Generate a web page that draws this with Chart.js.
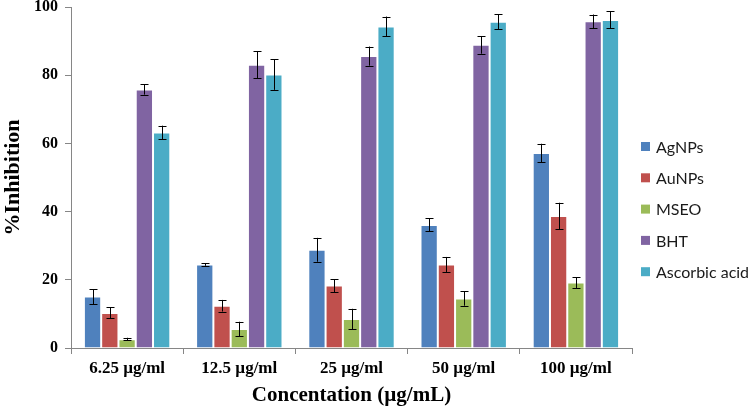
<!DOCTYPE html>
<html>
<head>
<meta charset="utf-8">
<script src="https://cdn.jsdelivr.net/npm/chart.js@4/dist/chart.umd.min.js"></script>
<style>
  html, body { margin: 0; padding: 0; background: #ffffff; }
  #c { display: block; }
</style>
</head>
<body>
<canvas id="c" width="749" height="409"></canvas>
<script>
const categories = ['6.25 µg/ml', '12.5 µg/ml', '25 µg/ml', '50 µg/ml', '100 µg/ml'];
const seriesNames = ['AgNPs', 'AuNPs', 'MSEO', 'BHT', 'Ascorbic acid'];
const agnps = [15.1, 24.5, 28.8, 36.1, 57.2];
const agnpsErr = [2.2, 0.4, 3.5, 1.9, 2.7];
const aunps = [10.3, 12.4, 18.3, 24.5, 38.7];
const aunpsErr = [1.6, 1.7, 1.9, 2.2, 3.9];
const mseo = [2.6, 5.6, 8.5, 14.5, 19.2];
const mseoErr = [0.4, 2.1, 3.0, 2.1, 1.6];
const bht = [75.8, 83.1, 85.6, 88.9, 95.8];
const bhtErr = [1.5, 4.0, 2.8, 2.6, 2.0];
const ascorbic = [63.2, 80.2, 94.3, 95.7, 96.2];
const ascorbicErr = [2.0, 4.5, 2.9, 2.2, 2.5];
const yTicks = [0, 20, 40, 60, 80, 100];

const colors = ['#4F81BD', '#C0504D', '#9BBB59', '#8064A2', '#4BACC6'];
const values = [agnps, aunps, mseo, bht, ascorbic];
const errors = [agnpsErr, aunpsErr, mseoErr, bhtErr, ascorbicErr];

const datasets = seriesNames.map((name, i) => ({
  label: name,
  data: values[i],
  errors: errors[i],
  backgroundColor: colors[i],
  borderColor: 'rgba(255,255,255,0.35)',
  borderWidth: { left: 1, right: 1, top: 1, bottom: 0 },
  categoryPercentage: 0.77,
  barPercentage: 1.0
}));

const errorBars = {
  id: 'errorBars',
  afterDatasetsDraw(chart) {
    const ctx = chart.ctx;
    const yScale = chart.scales.y;
    ctx.save();
    ctx.strokeStyle = '#000000';
    ctx.lineWidth = 1;
    chart.data.datasets.forEach((ds, di) => {
      const meta = chart.getDatasetMeta(di);
      meta.data.forEach((bar, j) => {
        const v = ds.data[j], e = ds.errors[j];
        const x = Math.round(bar.x) + 0.5;
        const yt = yScale.getPixelForValue(v + e);
        const yb = yScale.getPixelForValue(v - e);
        ctx.beginPath();
        ctx.moveTo(x, yt); ctx.lineTo(x, yb);
        ctx.moveTo(x - 4, Math.round(yt) + 0.5); ctx.lineTo(x + 4, Math.round(yt) + 0.5);
        ctx.moveTo(x - 4, Math.round(yb) + 0.5); ctx.lineTo(x + 4, Math.round(yb) + 0.5);
        ctx.stroke();
      });
    });
    ctx.restore();
  }
};

const sideLegend = {
  id: 'sideLegend',
  afterDraw(chart) {
    const ctx = chart.ctx;
    ctx.save();
    ctx.font = '16px Lato';
    ctx.textBaseline = 'middle';
    ctx.textAlign = 'left';
    const x0 = 641, y0 = 146.5, step = 31.3;
    chart.data.datasets.forEach((ds, i) => {
      const y = y0 + i * step;
      ctx.fillStyle = ds.backgroundColor;
      ctx.fillRect(x0, y - 4.5, 9, 9);
      ctx.fillStyle = '#1a1a1a';
      ctx.fillText(ds.label, x0 + 15, y + 1);
    });
    ctx.restore();
  }
};

new Chart(document.getElementById('c'), {
  type: 'bar',
  data: { labels: categories, datasets: datasets },
  options: {
    responsive: false,
    animation: false,
    devicePixelRatio: 1,
    layout: { padding: { left: 0, right: 117, top: 7, bottom: 0 } },
    plugins: {
      legend: { display: false },
      tooltip: { enabled: false }
    },
    scales: {
      x: {
        afterFit(scale) { scale.height = 61; scale.paddingLeft = 0; scale.paddingRight = 0; },
        grid: { display: true, drawOnChartArea: false, offset: true, tickLength: 6, color: '#868686' },
        border: { color: '#868686', width: 1 },
        ticks: { color: '#000000', padding: 4, font: { family: 'Liberation Serif', size: 17, weight: 'bold' } },
        title: {
          display: true, text: 'Concentation (µg/mL)', color: '#000000',
          font: { family: 'Liberation Serif', size: 21, weight: 'bold' },
          padding: { top: 0, bottom: 1 }
        }
      },
      y: {
        min: 0, max: 100,
        afterFit(scale) { scale.width = 71; scale.paddingTop = 0; scale.paddingBottom = 0; },
        afterBuildTicks(scale) { scale.ticks = yTicks.map(v => ({ value: v })); },
        grid: { display: true, drawOnChartArea: false, tickLength: 6, color: '#868686' },
        border: { color: '#868686', width: 1 },
        ticks: { color: '#000000', padding: 7, font: { family: 'Liberation Serif', size: 16, weight: 'bold' } },
        title: {
          display: true, text: '%Inhibition', color: '#000000',
          font: { family: 'Liberation Serif', size: 22, weight: 'bold' },
          padding: { top: 0, bottom: 0 }
        }
      }
    }
  },
  plugins: [errorBars, sideLegend]
});
</script>
</body>
</html>
